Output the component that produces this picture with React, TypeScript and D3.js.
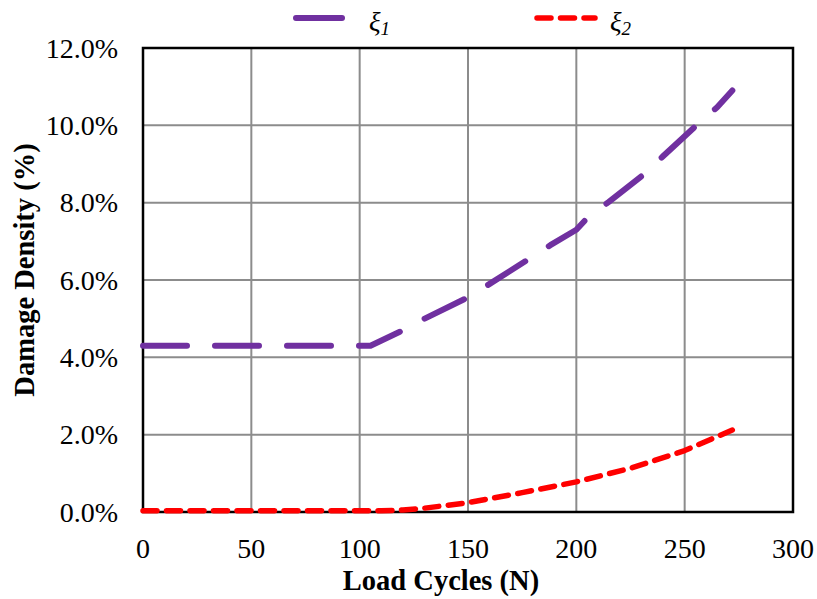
import React from "react";
import * as d3 from "d3";

// Load cycles (N) and damage density (%) for the two damage variables
const xi1Cycles = [0, 105, 120, 130, 150, 160, 178, 188, 200, 205, 215, 232, 240, 256, 265, 272];
const xi1Values = [4.3, 4.3, 4.7, 5.0, 5.55, 5.9, 6.54, 6.9, 7.3, 7.6, 8.02, 8.77, 9.2, 10.03, 10.47, 10.9];

const xi2Cycles = [0, 110, 120, 130, 150, 175, 200, 225, 250, 272];
const xi2Values = [0.03, 0.03, 0.05, 0.1, 0.24, 0.5, 0.78, 1.13, 1.59, 2.12];

const xTicks = [0, 50, 100, 150, 200, 250, 300];
const yTicks = [0, 2, 4, 6, 8, 10, 12];

const W = 817;
const H = 599;
const margin = { left: 143, right: 24, top: 48, bottom: 87 };

const serif = "Liberation Serif, Times New Roman, Times, serif";

export default function App() {
  const x = d3.scaleLinear().domain([0, 300]).range([margin.left, W - margin.right]);
  const y = d3.scaleLinear().domain([0, 12]).range([H - margin.bottom, margin.top]);

  const line = d3
    .line<[number, number]>()
    .x((d) => x(d[0]))
    .y((d) => y(d[1]));

  const xi1 = xi1Cycles.map((c, i) => [c, xi1Values[i]] as [number, number]);
  const xi2 = xi2Cycles.map((c, i) => [c, xi2Values[i]] as [number, number]);

  const x0 = x(0);
  const x1 = x(300);
  const y0 = y(0);
  const y1 = y(12);
  const txt = { fontFamily: serif };

  return (
    <svg
      width={W}
      height={H}
      style={{ position: "absolute", left: 0, top: 0, background: "#fff", fontFamily: serif }}
    >
      <rect width={W} height={H} fill="#fff" />
      {/* grid */}
      {xTicks.slice(1, -1).map((t) => (
        <line key={"gx" + t} x1={x(t)} x2={x(t)} y1={y1} y2={y0} stroke="#8c8c8c" strokeWidth={2} />
      ))}
      {yTicks.slice(1, -1).map((t) => (
        <line key={"gy" + t} x1={x0} x2={x1} y1={y(t)} y2={y(t)} stroke="#8c8c8c" strokeWidth={2} />
      ))}
      {/* plot frame */}
      <rect x={x0} y={y1} width={x1 - x0} height={y0 - y1} fill="none" stroke="#000" strokeWidth={2.5} />

      {/* series */}
      <path
        d={line(xi1) || ""}
        fill="none"
        stroke="#7030A0"
        strokeWidth={6}
        strokeLinecap="round"
        strokeLinejoin="round"
        strokeDasharray="44 28"
      />
      <path
        d={line(xi2) || ""}
        fill="none"
        stroke="#FF0000"
        strokeWidth={5.5}
        strokeLinecap="round"
        strokeLinejoin="round"
        strokeDasharray="14 9.5"
      />

      {/* x tick labels */}
      {xTicks.map((t) => (
        <text key={"tx" + t} x={x(t)} y={558} fontSize={28} textAnchor="middle" fill="#000" style={txt}>
          {t}
        </text>
      ))}
      {/* y tick labels */}
      {yTicks.map((t) => (
        <text key={"ty" + t} x={118} y={y(t) + 9.5} fontSize={28} textAnchor="end" fill="#000" style={txt}>
          {t.toFixed(1) + "%"}
        </text>
      ))}

      {/* axis titles */}
      <text x={441} y={590} fontSize={28.5} fontWeight="bold" textAnchor="middle" fill="#000" style={txt}>
        Load Cycles (N)
      </text>
      <text
        transform={`translate(34, 270) rotate(-90)`}
        fontSize={28.5}
        fontWeight="bold"
        textAnchor="middle"
        fill="#000"
        style={txt}
      >
        Damage Density (%)
      </text>

      {/* legend */}
      <line x1={296} x2={342} y1={18} y2={18} stroke="#7030A0" strokeWidth={6} strokeLinecap="round" />
      <text x={369} y={31} fontSize={27} fontStyle="italic" fill="#000" style={txt}>
        ξ<tspan fontSize={19} dy={4}>1</tspan>
      </text>
      <line
        x1={537}
        x2={595}
        y1={18}
        y2={18}
        stroke="#FF0000"
        strokeWidth={5.5}
        strokeLinecap="round"
        strokeDasharray="14 9.5"
      />
      <text x={610} y={31} fontSize={27} fontStyle="italic" fill="#000" style={txt}>
        ξ<tspan fontSize={19} dy={4}>2</tspan>
      </text>
    </svg>
  );
}
